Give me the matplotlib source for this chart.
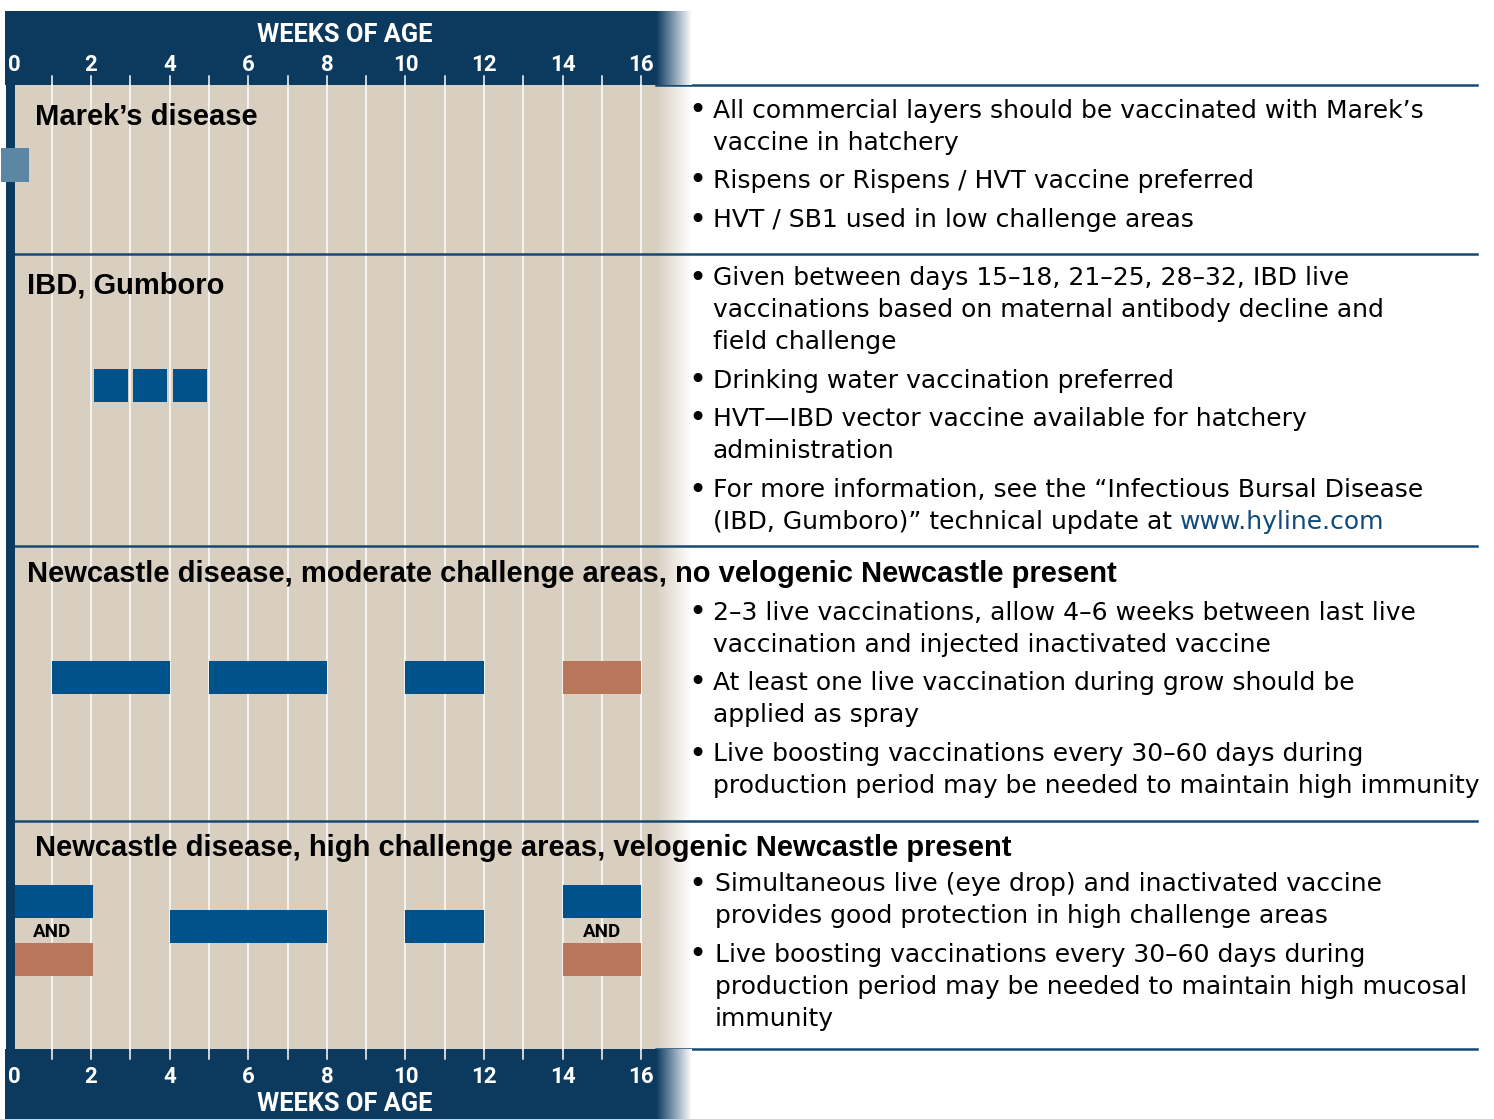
import matplotlib
matplotlib.use("Agg")
import matplotlib.pyplot as plt
import numpy as np
from matplotlib.patches import Rectangle
from matplotlib.colors import to_rgb

# ---------------- data ----------------
week_ticks = [0, 2, 4, 6, 8, 10, 12, 14, 16]
grid_weeks = list(range(1, 17))

marek_hatchery = [(-0.3, 0.42)]                      # hatchery vaccination
ibd_live = [(2.07, 2.94), (3.07, 3.93), (4.08, 4.95)]
nd_mod_live = [(1.0, 4.0), (5.0, 8.0), (10.0, 12.0)]
nd_mod_killed = [(14.0, 16.0)]
nd_high_live_top = [(0.0, 2.05), (14.0, 16.0)]
nd_high_live_mid = [(4.0, 8.0), (10.0, 12.0)]
nd_high_killed = [(0.0, 2.05), (14.0, 16.0)]
and_weeks = [1.0, 15.0]

titles = ["Marek\u2019s disease", "IBD, Gumboro",
          "Newcastle disease, moderate challenge areas, no velogenic Newcastle present",
          "Newcastle disease, high challenge areas, velogenic Newcastle present"]

bullets = [
    [["All commercial layers should be vaccinated with Marek\u2019s", "vaccine in hatchery"],
     ["Rispens or Rispens / HVT vaccine preferred"],
     ["HVT / SB1 used in low challenge areas"]],
    [["Given between days 15\u201318, 21\u201325, 28\u201332, IBD live",
      "vaccinations based on maternal antibody decline and", "field challenge"],
     ["Drinking water vaccination preferred"],
     ["HVT\u2014IBD vector vaccine available for hatchery", "administration"],
     ["For more information, see the \u201cInfectious Bursal Disease",
      "(IBD, Gumboro)\u201d technical update at "]],
    [["2\u20133 live vaccinations, allow 4\u20136 weeks between last live",
      "vaccination and injected inactivated vaccine"],
     ["At least one live vaccination during grow should be", "applied as spray"],
     ["Live boosting vaccinations every 30\u201360 days during",
      "production period may be needed to maintain high immunity"]],
    [["Simultaneous live (eye drop) and inactivated vaccine",
      "provides good protection in high challenge areas"],
     ["Live boosting vaccinations every 30\u201360 days during",
      "production period may be needed to maintain high mucosal", "immunity"]],
]
link_text = "www.hyline.com"

# ---------------- style / layout ----------------
W, H = 1494, 1119
PX0, PPW = 12.5, 39.3          # pixel of week 0, pixels per week
NAVY = "#0c3a5f"
BEIGE = "#d8cfc1"
BLUE = "#00528a"
BROWN = "#b8765b"
STEEL = "#5b87a5"
SEP = "#174a72"
LINK = "#0f4a7a"

fig = plt.figure(figsize=(W / 100, H / 100), dpi=100)
lay = fig.add_axes([0, 0, 1, 1])
lay.set_xlim(0, W)
lay.set_ylim(H, 0)
lay.axis("off")

ax = fig.add_axes([0, 0, 1, 1])
ax.set_xlim(-PX0 / PPW, (W - PX0) / PPW)
ax.set_ylim(H, 0)
ax.axis("off")
ax.patch.set_alpha(0)
PX = lay.transData   # pixel-layout transform used for text placement

panel_top, panel_bot = 85, 1049
fade_x0, fade_x1 = 656, 692


def fade(color, y0, y1, z):
    c = np.array(to_rgb(color))
    t = np.linspace(0, 1, 64)
    img = (1 - t)[:, None] * c[None, :] + t[:, None] * np.ones(3)[None, :]
    img = img[None, :, :]
    lay.imshow(img, extent=(fade_x0, fade_x1, y1, y0), aspect="auto",
               interpolation="bilinear", zorder=z)


# beige panel
lay.add_patch(Rectangle((15, panel_top), fade_x0 - 15, panel_bot - panel_top,
                        color=BEIGE, lw=0, zorder=1))
fade(BEIGE, panel_top, panel_bot, 1)
# headers
for y0, y1 in [(11, panel_top), (panel_bot, H)]:
    lay.add_patch(Rectangle((5, y0), fade_x0 - 5, y1 - y0, color=NAVY, lw=0, zorder=2))
    fade(NAVY, y0, y1, 2)
lay.set_xlim(0, W)
lay.set_ylim(H, 0)
for y in [panel_top, panel_bot]:
    lay.plot([fade_x0, 1477], [y, y], color=SEP, lw=1.8, zorder=1.5)
# left strip (above bars)
ax.add_patch(Rectangle((6, panel_top), 9, panel_bot - panel_top, color=NAVY, lw=0,
                       zorder=5.5, transform=PX))

# grid lines and ticks
for w in grid_weeks:
    ax.plot([w, w], [panel_top, panel_bot], color="white", lw=1.1, zorder=1)
    ax.plot([w, w], [76, panel_top], color="white", lw=1.1, zorder=1)
    ax.plot([w, w], [panel_bot, 1059], color="white", lw=1.1, zorder=1)

hdr = ["Roboto", "DejaVu Sans"]
for w in week_ticks:
    xw = w + (0.05 if w == 0 else 0)
    ax.text(xw, 65, str(w), color="white", fontsize=16, fontweight="bold",
            family=hdr, ha="center", va="center", zorder=6)
    ax.text(xw, 1077, str(w), color="white", fontsize=16, fontweight="bold",
            family=hdr, ha="center", va="center", zorder=6)
ax.text(8.45, 35, "WEEKS OF AGE", color="white", fontsize=18.3, fontweight="bold",
        family=hdr, ha="center", va="center", zorder=6)
ax.text(8.45, 1104, "WEEKS OF AGE", color="white", fontsize=18.3, fontweight="bold",
        family=hdr, ha="center", va="center", zorder=6)

# separators
for y in [254, 546, 821]:
    ax.plot([15, 1477], [y, y], color=SEP, lw=1.8, zorder=3, transform=PX)


def bars(spans, y0, y1, color, z=5):
    for a, b in spans:
        ax.add_patch(Rectangle((a, y0), b - a, y1 - y0, color=color, lw=0,
                               zorder=z, clip_on=False))


bars(marek_hatchery, 148, 182, STEEL, z=6)
bars(ibd_live, 369, 402, BLUE)
bars(nd_mod_live, 661, 694, BLUE)
bars(nd_mod_killed, 661, 694, BROWN)
bars(nd_high_live_top, 885, 918, BLUE)
bars(nd_high_live_mid, 910, 943, BLUE)
bars(nd_high_killed, 943, 976, BROWN)
for w in and_weeks:
    ax.text(w, 932, "AND", fontsize=13.5, fontweight="bold", family=hdr,
            ha="center", va="center", zorder=6)

# titles
title_pos = [(35, 117), (27, 285), (27, 574), (35, 848)]
for (x, y), t in zip(title_pos, titles):
    ax.text(x, y, t, fontsize=21, fontweight="bold",
            family=["Liberation Sans", "DejaVu Sans"],
            ha="left", va="center", zorder=6, transform=PX)

# bullets
body = ["DejaVu Sans"]
BFS = 18
line_ys = [
    [[110, 142], [180], [219]],
    [[277, 309, 341], [380], [418, 450], [489, 521]],
    [[612, 644], [682, 714], [753, 785]],
    [[883, 915], [954, 986, 1018]],
]
last = None
for gi, (grp, ys) in enumerate(zip(bullets, line_ys)):
    tx = 715 if gi == 3 else 713
    for item, iy in zip(grp, ys):
        ax.text(697, iy[0] + 1, "\u2022", fontsize=22, family=body, ha="center",
                va="center", zorder=6, transform=PX)
        for line, y in zip(item, iy):
            t = ax.text(tx, y + 1, line, fontsize=BFS, family=body, ha="left",
                        va="center", zorder=6, transform=PX)
            if line.startswith("(IBD, Gumboro)"):
                last = t
# link
fig.canvas.draw()
r = fig.canvas.get_renderer()
ext = last.get_window_extent(renderer=r)
xend = PX.inverted().transform((ext.x1, ext.y0))[0]
ax.text(xend, 522, link_text, fontsize=BFS, family=body, color=LINK, ha="left",
        va="center", zorder=6, transform=PX)

fig.savefig("out.png", dpi=100)
